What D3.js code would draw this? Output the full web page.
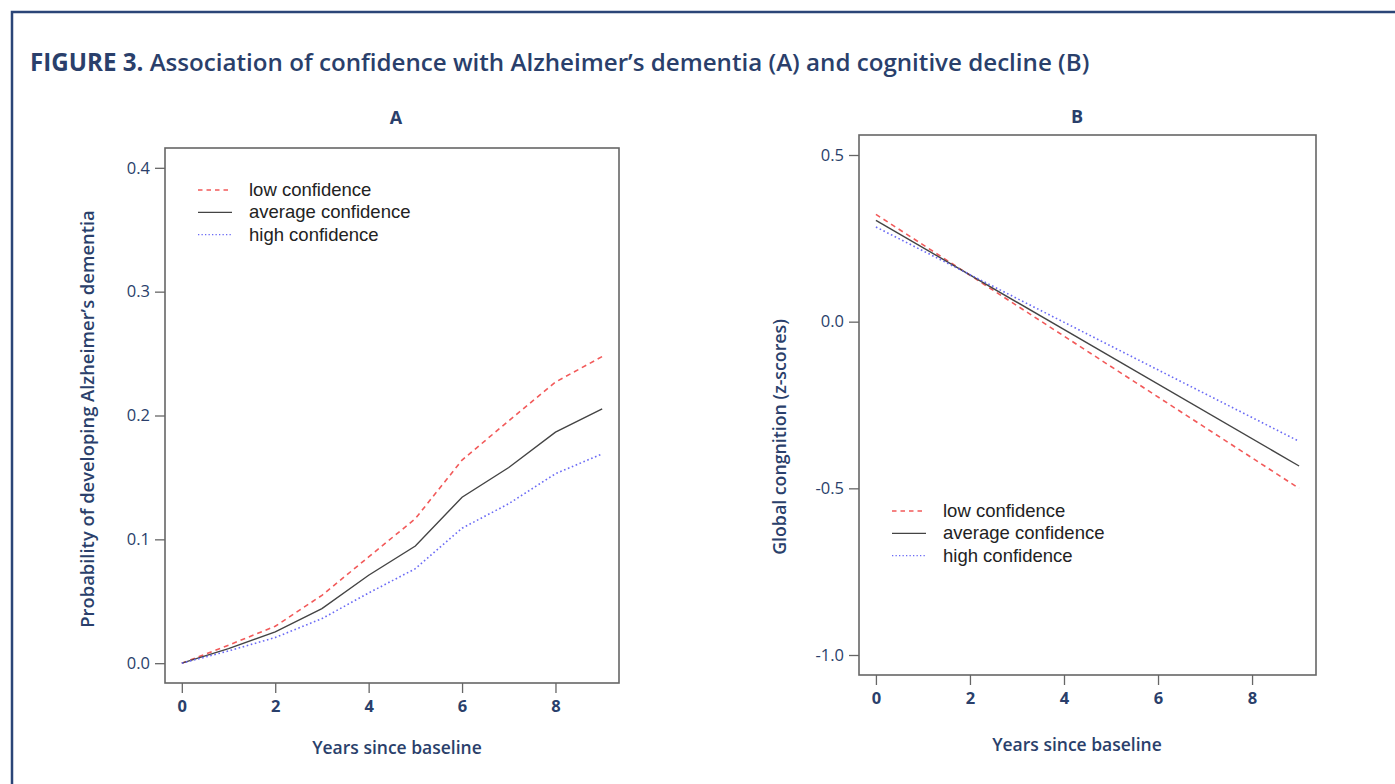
<!DOCTYPE html>
<html>
<head>
<meta charset="utf-8">
<script src="https://cdn.jsdelivr.net/npm/d3@7"></script>
<style>
  body { margin: 0; background: #fff; }
  svg { display: block; }
  .navy { fill: #2a3f6b; font-family: "Open Sans", sans-serif; }
  .legend text { font-family: "Liberation Sans", Arial, sans-serif; font-size: 18.5px; fill: #222; }
</style>
</head>
<body>
<svg id="chart" width="1395" height="784"></svg>
<script>
// ---- data ----
var years = [0, 1, 2, 3, 4, 5, 6, 7, 8, 9];
var probLow = [0, 0.0145, 0.0298, 0.0548, 0.0858, 0.1167, 0.164, 0.1957, 0.227, 0.2476];
var probAvg = [0, 0.0118, 0.0253, 0.044, 0.071, 0.0946, 0.134, 0.158, 0.1866, 0.2054];
var probHigh = [0, 0.0099, 0.0207, 0.036, 0.0567, 0.0763, 0.109, 0.1288, 0.153, 0.169];

var cogYears = [0, 9];
var cogLow = [0.322, -0.50];
var cogAvg = [0.304, -0.433];
var cogHigh = [0.284, -0.359];

var xTicks = [0, 2, 4, 6, 8];
var probTicks = [0, 0.1, 0.2, 0.3, 0.4];
var cogTicks = [-1.0, -0.5, 0.0, 0.5];

var seriesNames = ["low confidence", "average confidence", "high confidence"];
var seriesStyle = [
	{ color: "#f25a5a", dash: "5,4", width: 1.6 },
	{ color: "#444444", dash: null, width: 1.4 },
	{ color: "#6a6af5", dash: "1.6,2.6", width: 1.6 }
];

var svg = d3.select("#chart");

// outer frame (only top and left visible)
svg.append("path")
	.attr("d", "M12,784 V12 H1395")
	.attr("fill", "none")
	.attr("stroke", "#2b4577")
	.attr("stroke-width", 2.5);

// title
var title = svg.append("text")
	.attr("class", "navy")
	.attr("x", 30).attr("y", 71)
	.attr("font-size", 22);
title.append("tspan").attr("font-weight", 700).text("FIGURE 3. ");
title.append("tspan").attr("font-weight", 600).text("Association of confidence with Alzheimer\u2019s dementia (A) and cognitive decline (B)");
fitWidth(title, 1060);

function fitWidth(sel, w) {
	var len = sel.node().getComputedTextLength();
	var fs = +sel.attr("font-size");
	sel.attr("font-size", fs * w / len);
}

// R style labels, plain hyphen for minus
var fmt = function(d) { return d3.format(".1f")(d).replace("\u2212", "-"); };

function panel(opts) {
	var g = svg.append("g");
	var x = d3.scaleLinear().domain([-0.36, 9.36]).range([opts.left, opts.right]);
	var y = d3.scaleLinear().domain(opts.yDomain).range([opts.bottom, opts.top]);

	// y axis
	var ya = g.append("g")
		.attr("transform", "translate(" + opts.left + ",0)")
		.call(d3.axisLeft(y).tickValues(opts.yTicks).tickSize(10).tickPadding(5).tickFormat(fmt));
	ya.select(".domain").remove();
	ya.selectAll("line").attr("stroke", "#666").attr("stroke-width", 1.3);
	ya.selectAll("text")
		.attr("class", "navy")
		.attr("font-size", 16.5)
		.attr("fill", "#3b5280")
		.style("font-family", "'Open Sans', sans-serif");

	// x axis
	var xa = g.append("g")
		.attr("transform", "translate(0," + opts.bottom + ")")
		.call(d3.axisBottom(x).tickValues(xTicks).tickSize(10).tickPadding(7));
	xa.select(".domain").remove();
	xa.selectAll("line").attr("stroke", "#666").attr("stroke-width", 1.3);
	xa.selectAll("text")
		.attr("font-size", 16.5)
		.attr("font-weight", 700)
		.attr("fill", "#2a3f6b")
		.style("font-family", "'Open Sans', sans-serif");

	// lines
	var line = d3.line()
		.x(function(d) { return x(d[0]); })
		.y(function(d) { return y(d[1]); });
	opts.series.forEach(function(vals, i) {
		var st = seriesStyle[i];
		g.append("path")
			.datum(opts.xs.map(function(t, j) { return [t, vals[j]]; }))
			.attr("d", line)
			.attr("fill", "none")
			.attr("stroke", st.color)
			.attr("stroke-width", st.width)
			.attr("stroke-dasharray", st.dash);
	});

	// box
	g.append("rect")
		.attr("x", opts.left).attr("y", opts.top)
		.attr("width", opts.right - opts.left)
		.attr("height", opts.bottom - opts.top)
		.attr("fill", "none")
		.attr("stroke", "#666")
		.attr("stroke-width", 1.6);

	// legend
	var lg = g.append("g").attr("class", "legend");
	seriesNames.forEach(function(name, i) {
		var st = seriesStyle[i];
		var ly = opts.legY + i * 22.3;
		lg.append("line")
			.attr("x1", opts.legX).attr("x2", opts.legX + 34)
			.attr("y1", ly).attr("y2", ly)
			.attr("stroke", st.color)
			.attr("stroke-width", i === 1 ? 1.3 : 1.4)
			.attr("stroke-dasharray", i === 0 ? "4.5,4" : (i === 2 ? "1.3,2.2" : null));
		lg.append("text")
			.attr("x", opts.legX + 51).attr("y", ly + 6)
			.text(name);
	});

	// panel letter
	g.append("text")
		.attr("class", "navy")
		.attr("x", opts.letterX).attr("y", opts.letterY)
		.attr("text-anchor", "middle")
		.attr("font-size", 18).attr("font-weight", 700)
		.text(opts.letter);

	// x title
	g.append("text")
		.attr("class", "navy")
		.attr("x", opts.xTitleX).attr("y", opts.xTitleY)
		.attr("text-anchor", "middle")
		.attr("font-size", 17.5).attr("font-weight", 600)
		.text("Years since baseline");

	// y title
	var yt = g.append("text")
		.attr("class", "navy")
		.attr("transform", "translate(" + opts.yTitleX + "," + opts.yTitleY + ") rotate(-90)")
		.attr("text-anchor", "middle")
		.attr("font-size", 17).attr("font-weight", 600)
		.text(opts.yTitle);
	fitWidth(yt, opts.yTitleW);
}

panel({
	left: 165, right: 619, top: 148, bottom: 683,
	yDomain: [-0.016, 0.416], yTicks: probTicks,
	xs: years, series: [probLow, probAvg, probHigh],
	legX: 198, legY: 190,
	letter: "A", letterX: 396, letterY: 124,
	xTitleX: 397, xTitleY: 754,
	yTitle: "Probability of developing Alzheimer\u2019s dementia",
	yTitleX: 94, yTitleY: 419, yTitleW: 418
});

panel({
	left: 859, right: 1316, top: 135, bottom: 675,
	yDomain: [-1.06, 0.56], yTicks: cogTicks,
	xs: cogYears, series: [cogLow, cogAvg, cogHigh],
	legX: 892, legY: 511,
	letter: "B", letterX: 1077, letterY: 123,
	xTitleX: 1077, xTitleY: 751,
	yTitle: "Global congnition (z-scores)",
	yTitleX: 786, yTitleY: 437, yTitleW: 236
});
</script>
</body>
</html>
